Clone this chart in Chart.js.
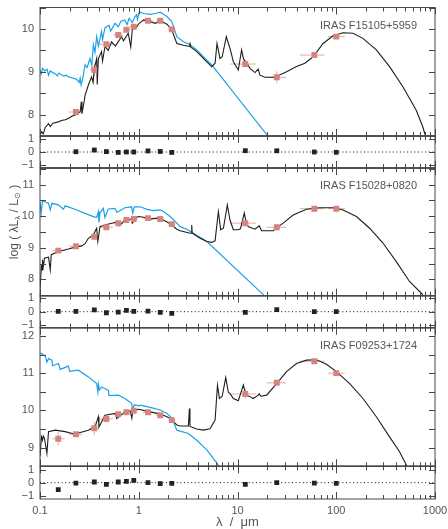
<!DOCTYPE html>
<html><head><meta charset="utf-8">
<script src="https://cdn.jsdelivr.net/npm/chart.js@4/dist/chart.umd.min.js"></script>
<style>html,body{margin:0;padding:0;background:#fff;}canvas{display:block;}</style>
</head><body>
<canvas id="c" width="448" height="529"></canvas>
<script>
// ---------- tick labels / categories ----------
const xTickVals = [0.1, 1, 10, 100, 1000];
const panelNames = ['IRAS F15105+5959', 'IRAS F15028+0820', 'IRAS F09253+1724'];
const panelRanges = [[7.5, 10.5], [7.48, 11.53], [8.5, 12.22]];
const panelLabelTicks = [[8, 9, 10], [8, 9, 10, 11], [9, 10, 11, 12]];
const resRanges = [[-1.2, 1.2], [-1.2, 1.2], [-1.25, 1.25]];
const resLabelTicks = [-1, 0, 1];

// ---------- photometry (filters) ----------
const filtLam = [0.153, 0.231, 0.355, 0.47, 0.62, 0.75, 0.89, 1.24, 1.65, 2.16, 12, 25, 60, 100];
const filtLo  = [0.134, 0.195, 0.32, 0.40, 0.55, 0.69, 0.82, 1.10, 1.50, 2.00, 8.4, 19.7, 42.5, 82.6];
const filtHi  = [0.178, 0.267, 0.39, 0.55, 0.69, 0.82, 0.97, 1.40, 1.80, 2.35, 15.4, 31.0, 76.0, 122.0];

const p1Obs = [null, 8.06, 9.04, 9.64, 9.86, 9.98, 10.05, 10.19, 10.19, 9.99, 9.18, 8.87, 9.39, 9.82];
const p1Err = [null, 0.05, 0.15, 0.05, 0.04, 0.04, 0.05, 0.04, 0.04, 0.05, 0.08, 0.14, 0.05, 0.04];
const p1Res = [null, 0.02, 0.15, 0.03, -0.03, 0.0, 0.0, 0.08, 0.04, -0.03, 0.10, 0.09, 0.0, -0.02];

const p2Obs = [8.91, 9.05, 9.35, 9.65, 9.78, 9.88, 9.91, 9.94, 9.91, 9.75, 9.78, 9.65, 10.24, 10.24];
const p2Err = [0.05, 0.04, 0.12, 0.05, 0.04, 0.04, 0.04, 0.04, 0.04, 0.05, 0.08, 0.10, 0.05, 0.04];
const p2Res = [0.03, 0.03, 0.13, -0.08, -0.03, 0.10, 0.03, 0.05, -0.05, -0.13, -0.05, 0.16, 0.0, 0.0];

const p3Obs = [9.24, 9.36, 9.52, 9.77, 9.90, 9.95, 9.99, 9.95, 9.87, 9.74, 10.44, 10.74, 11.32, 11.00];
const p3Err = [0.18, 0.05, 0.18, 0.06, 0.04, 0.04, 0.04, 0.04, 0.05, 0.06, 0.12, 0.05, 0.04, 0.05];
const p3Res = [-0.54, -0.03, 0.05, -0.13, 0.05, 0.10, 0.18, 0.0, -0.08, -0.05, -0.13, 0.0, -0.03, -0.05];

// ---------- panel 1 : stellar (blue) & total model (black) ----------
const p1StarLam = [0.100,0.103,0.106,0.112,0.118,0.122,0.127,0.135,0.143,0.150,0.155,0.165,0.175,0.185,0.195,0.210,0.225,0.240,0.250,0.255,0.261,0.270,0.286,0.300,0.321,0.335,0.347,0.360,0.375,0.390,0.420,0.430,0.455,0.500,0.520,0.575,0.620,0.660,0.725,0.760,0.800,0.860,0.916,0.950,0.970,1.000,1.035,1.120,1.306,1.470,1.650,1.780,1.930,2.160,2.430,2.840,3.310,3.870,4.700,5.490,20.3];
const p1StarVal = [9.04,8.95,9.08,9.02,9.06,8.92,9.02,8.98,8.95,8.90,8.97,8.93,8.90,8.92,8.88,8.86,8.84,8.80,8.75,8.85,8.69,8.82,9.16,9.10,9.31,9.15,9.63,9.45,9.82,9.60,9.94,9.75,10.03,10.08,9.95,10.13,10.05,10.18,10.21,10.10,10.25,10.15,10.29,10.33,10.22,10.37,10.39,10.36,10.34,10.36,10.39,10.34,10.29,10.17,9.82,9.70,9.63,9.51,9.31,9.16,7.5];
const p1ModLam = [0.100,0.104,0.108,0.113,0.122,0.127,0.135,0.154,0.165,0.180,0.194,0.210,0.227,0.240,0.255,0.262,0.266,0.275,0.286,0.309,0.333,0.345,0.355,0.375,0.380,0.390,0.420,0.430,0.455,0.490,0.531,0.580,0.670,0.700,0.783,0.830,0.860,0.950,1.000,1.120,1.306,1.470,1.650,1.930,2.160,2.430,2.840,3.260,3.300,3.350,3.870,4.700,5.490,5.930,6.200,6.650,7.000,7.700,8.090,8.390,9.080,10.19,11.00,11.50,12.40,13.37,15.03,16.20,16.87,18.97,23.90,31.40,39.60,48.10,58.30,73.60,92.90,117.2,147.9,186.2,254.7,346.7,473.0,645.7,753.4,801.7];
const p1ModVal = [7.52,7.60,7.55,7.70,7.79,7.72,7.80,7.83,7.86,7.88,7.91,7.96,7.99,8.03,8.06,8.30,8.02,8.20,8.45,8.69,8.88,8.75,9.08,9.31,8.70,9.30,9.47,9.25,9.59,9.50,9.70,9.60,9.82,9.72,9.90,9.58,9.98,10.05,10.12,10.21,10.17,10.13,10.19,10.11,9.98,9.66,9.62,9.59,9.68,9.58,9.47,9.27,9.12,9.20,9.66,9.31,9.35,9.82,9.66,9.55,9.23,9.04,9.51,9.30,9.20,9.08,8.98,9.06,8.92,8.87,8.87,9.00,9.12,9.20,9.35,9.66,9.84,9.91,9.90,9.78,9.51,9.12,8.65,8.10,7.71,7.50];

// ---------- panel 2 ----------
const p2StarLam = [0.100,0.1028,0.106,0.113,0.122,0.127,0.132,0.154,0.1726,0.1795,0.2265,0.286,0.347,0.375,0.390,0.395,0.405,0.4375,0.455,0.492,0.575,0.600,0.724,0.845,0.870,0.900,1.035,1.210,1.410,1.650,1.780,2.080,2.430,2.620,3.070,3.570,4.350,4.890,18.45];
const p2StarVal = [10.46,10.09,10.49,10.45,10.41,10.20,10.41,10.36,10.22,10.33,10.22,10.09,9.99,9.96,10.15,9.80,10.10,10.25,9.96,10.23,10.25,10.12,10.27,10.30,10.10,10.30,10.30,10.22,10.18,10.20,10.15,9.99,9.78,9.67,9.59,9.46,9.30,9.20,7.50];
const p2ModLam = [0.100,0.1035,0.105,0.106,0.108,0.111,0.122,0.127,0.130,0.154,0.194,0.2265,0.264,0.286,0.309,0.347,0.375,0.385,0.405,0.455,0.531,0.621,0.640,0.724,0.845,0.860,0.950,1.000,1.120,1.306,1.530,1.780,2.080,2.430,2.620,2.950,3.310,3.400,3.440,3.480,4.180,4.890,5.490,5.930,6.400,6.760,7.200,7.890,8.390,9.080,10.19,10.70,11.72,12.39,13.00,15.03,16.60,17.50,23.00,29.00,36.60,50.00,68.10,92.90,117.2,160.0,217.8,297.2,405.5,552.0,753.4];
const p2ModVal = [7.67,8.46,8.30,8.62,8.40,8.67,8.70,8.30,8.78,8.88,8.96,9.02,9.06,9.13,9.30,9.41,9.62,9.20,9.67,9.72,9.78,9.83,9.70,9.88,9.91,9.78,9.97,9.99,9.97,9.91,9.94,9.88,9.76,9.59,9.54,9.50,9.46,9.46,9.72,9.46,9.30,9.20,9.17,9.22,10.15,9.57,9.62,10.36,9.88,9.57,9.57,9.60,10.10,9.72,9.67,9.59,9.70,9.54,9.54,9.78,10.04,10.22,10.27,10.27,10.20,9.99,9.62,9.15,8.56,7.93,7.51];

// ---------- panel 3 ----------
const p3StarLam = [0.100,0.104,0.113,0.1175,0.122,0.132,0.134,0.154,0.160,0.194,0.200,0.245,0.309,0.375,0.385,0.390,0.400,0.420,0.492,0.500,0.621,0.724,0.845,0.870,0.900,1.000,1.035,1.306,1.650,1.930,2.160,2.430,3.180,3.870,4.890,6.500];
const p3StarVal = [11.51,11.53,11.46,11.30,11.39,11.35,11.20,11.26,11.10,11.19,11.05,11.08,10.90,10.72,10.50,10.70,10.55,10.63,10.54,10.40,10.41,10.32,10.19,10.00,10.15,10.12,10.14,10.08,10.01,9.92,9.80,9.47,9.38,9.20,8.94,8.51];
const p3ModLam = [0.100,0.1035,0.106,0.108,0.111,0.1175,0.122,0.1426,0.1795,0.2265,0.250,0.309,0.361,0.390,0.395,0.455,0.575,0.600,0.724,0.820,0.851,0.870,0.916,1.000,1.210,1.530,1.780,2.080,2.430,2.620,3.180,3.220,3.260,3.300,3.870,4.520,5.270,5.930,6.270,6.560,7.000,7.600,8.090,8.400,9.080,10.19,11.46,12.00,12.39,13.37,14.45,16.20,16.60,17.20,19.72,24.90,31.40,39.60,50.00,63.10,79.60,100.5,136.8,186.6,254.7,346.7,437.5,518.8];
const p3ModVal = [8.76,9.29,9.20,9.31,9.25,8.85,9.43,9.47,9.43,9.36,9.40,9.47,9.56,9.83,9.55,9.87,9.92,9.78,9.96,9.99,9.79,10.00,10.01,10.03,9.98,9.92,9.87,9.79,9.61,9.58,9.58,9.58,10.05,9.57,9.50,9.47,9.51,9.74,10.68,10.32,10.38,10.88,10.48,10.45,10.32,10.26,10.68,10.48,10.41,10.37,10.32,10.41,10.45,10.38,10.41,10.72,11.04,11.26,11.35,11.36,11.24,11.04,10.72,10.32,9.83,9.29,8.89,8.51];

// ---------- styling ----------
const BLUE = '#1ba2e6', BLACK = '#1e1e1e', RED = '#d5857e', REDBAR = '#eaa8a2', AXIS = '#474747', TXT = '#555';
const FONT = "'Liberation Sans', Arial, Helvetica, sans-serif";
Chart.defaults.font.family = FONT;
Chart.defaults.font.size = 11;
Chart.defaults.color = TXT;

function line(xs, ys) { const n = Math.min(xs.length, ys.length); const o = []; for (let i = 0; i < n; i++) o.push({x: xs[i], y: ys[i]}); return o; }
function obs(vals, errs) { const o = []; filtLam.forEach((l, i) => { if (vals[i] != null) o.push({x: l, y: vals[i], lo: filtLo[i], hi: filtHi[i], e: errs[i]}); }); return o; }
function res(vals) { const o = []; filtLam.forEach((l, i) => { if (vals[i] != null) o.push({x: l, y: vals[i]}); }); return o; }
function noPad(s) { s.paddingTop = 0; s.paddingBottom = 0; s.paddingLeft = 0; s.paddingRight = 0; }

const panels = [
  {star: [p1StarLam, p1StarVal], mod: [p1ModLam, p1ModVal], obs: [p1Obs, p1Err], res: p1Res},
  {star: [p2StarLam, p2StarVal], mod: [p2ModLam, p2ModVal], obs: [p2Obs, p2Err], res: p2Res},
  {star: [p3StarLam, p3StarVal], mod: [p3ModLam, p3ModVal], obs: [p3Obs, p3Err], res: p3Res}
];
const weights = [128.5, 32, 127.7, 32, 138.6, 32.7];

const datasets = [];
const yScales = {};
panels.forEach((p, k) => {
  const yId = 'y' + (k + 1), rId = 'r' + (k + 1);
  yScales[yId] = {
    type: 'linear', position: 'left', stack: 'sed', stackWeight: weights[2 * k],
    min: panelRanges[k][0], max: panelRanges[k][1],
    grid: {display: false, drawTicks: false}, border: {display: false},
    ticks: {padding: 6, autoSkip: false, color: TXT, font: {size: 11}, callback: (v) => String(v)},
    afterBuildTicks: (s) => { s.ticks = panelLabelTicks[k].map(v => ({value: v})); },
    afterFit: (s) => { s.width = 40; noPad(s); }
  };
  yScales[rId] = {
    type: 'linear', position: 'left', stack: 'sed', stackWeight: weights[2 * k + 1],
    min: resRanges[k][0], max: resRanges[k][1],
    grid: {display: false, drawTicks: false}, border: {display: false},
    ticks: {padding: 6, autoSkip: false, color: TXT, font: {size: 11}, callback: (v) => v < 0 ? '\u2212' + Math.abs(v) : String(v)},
    afterBuildTicks: (s) => { s.ticks = resLabelTicks.map(v => ({value: v})); },
    afterFit: (s) => { s.width = 40; noPad(s); }
  };
  datasets.push({data: obs(p.obs[0], p.obs[1]), yAxisID: yId, isObs: true, pointStyle: 'rect', pointRadius: 4.2, pointHoverRadius: 4.2, backgroundColor: RED, borderWidth: 0, order: 0});
  datasets.push({data: line(p.mod[0], p.mod[1]), yAxisID: yId, showLine: true, pointRadius: 0, borderColor: BLACK, borderWidth: 1.1, order: 1});
  datasets.push({data: line(p.star[0], p.star[1]), yAxisID: yId, showLine: true, pointRadius: 0, borderColor: BLUE, borderWidth: 1.2, order: 2});
  datasets.push({data: res(p.res), yAxisID: rId, pointStyle: 'rect', pointRadius: 3.4, pointHoverRadius: 3.4, backgroundColor: '#222', borderWidth: 0, order: 0});
  datasets.push({data: [{x: xTickVals[0], y: 0}, {x: xTickVals[xTickVals.length - 1], y: 0}], yAxisID: rId, showLine: true, pointRadius: 0, borderColor: '#111', borderWidth: 1, borderDash: [1, 2.6], order: 3});
});

// stacked axes are laid out bottom-up in definition order, so add them reversed
const scales = {
  x: {
    type: 'logarithmic', position: 'bottom', min: 0.1, max: 1000,
    grid: {display: false, drawTicks: false}, border: {display: false},
    ticks: {padding: 5, autoSkip: false, maxRotation: 0, color: TXT, font: {size: 11},
      callback: (v) => xTickVals.includes(v) ? String(v) : ''},
    afterBuildTicks: (s) => { s.ticks = xTickVals.map(v => ({value: v})); },
    afterFit: (s) => { s.height = 30; noPad(s); }
  }
};
['r3', 'y3', 'r2', 'y2', 'r1', 'y1'].forEach(id => { scales[id] = yScales[id]; });

const errorBars = {
  id: 'errorBars',
  beforeDatasetsDraw(chart) {
    const ctx = chart.ctx, xs = chart.scales.x;
    ctx.save(); ctx.strokeStyle = REDBAR; ctx.lineWidth = 1;
    chart.data.datasets.forEach(ds => {
      if (!ds.isObs) return;
      const ys = chart.scales[ds.yAxisID];
      ds.data.forEach(p => {
        const cx = xs.getPixelForValue(p.x), cy = ys.getPixelForValue(p.y);
        ctx.beginPath();
        ctx.moveTo(xs.getPixelForValue(p.lo), cy); ctx.lineTo(xs.getPixelForValue(p.hi), cy);
        ctx.moveTo(cx, ys.getPixelForValue(p.y - p.e)); ctx.lineTo(cx, ys.getPixelForValue(p.y + p.e));
        ctx.stroke();
      });
    });
    ctx.restore();
  }
};

const frames = {
  id: 'frames',
  afterDraw(chart) {
    const ctx = chart.ctx, xs = chart.scales.x, ca = chart.chartArea;
    const L = ca.left, R = ca.right;
    const ids = ['y1', 'r1', 'y2', 'r2', 'y3', 'r3'];
    const minor = [];
    for (let d = 0.1; d < 1000; d *= 10) for (let m = 2; m <= 9; m++) minor.push(d * m);
    ctx.save();
    ctx.strokeStyle = AXIS; ctx.lineWidth = 1;
    ids.forEach((id, j) => {
      const s = chart.scales[id];
      const T = s.top, B = s.bottom;
      ctx.beginPath();
      xTickVals.forEach(v => { const px = Math.round(xs.getPixelForValue(v)) + 0.5; ctx.moveTo(px, T); ctx.lineTo(px, T + 7); ctx.moveTo(px, B); ctx.lineTo(px, B - 7); });
      minor.forEach(v => { const px = Math.round(xs.getPixelForValue(v)) + 0.5; ctx.moveTo(px, T); ctx.lineTo(px, T + 4); ctx.moveTo(px, B); ctx.lineTo(px, B - 4); });
      let yt = [];
      if (id[0] === 'y') { for (let v = Math.ceil(s.min * 2) / 2; v <= s.max; v += 0.5) yt.push(v); }
      else yt = resLabelTicks;
      yt.forEach(v => { const py = Math.round(s.getPixelForValue(v)) + 0.5; ctx.moveTo(L, py); ctx.lineTo(L + 6, py); ctx.moveTo(R, py); ctx.lineTo(R - 6, py); });
      ctx.stroke();
      ctx.strokeRect(L, T, R - L, B - T);
    });
    // thicker separators between panels
    ctx.lineWidth = 1.6;
    ctx.beginPath();
    ['y1', 'r1', 'y2', 'r2', 'y3'].forEach(id => { const b = chart.scales[id].bottom; ctx.moveTo(L, b); ctx.lineTo(R, b); });
    ctx.stroke();
    // panel names
    ctx.fillStyle = TXT; ctx.font = '11px ' + FONT; ctx.textAlign = 'right'; ctx.textBaseline = 'middle';
    panelNames.forEach((n, k) => { const s = chart.scales['y' + (k + 1)]; ctx.fillText(n, 417, s.top + 18); });
    // x title
    ctx.textAlign = 'center'; ctx.font = '13px ' + FONT;
    ctx.fillText('\u03bb  /  \u03bcm', (L + R) / 2, 522);
    // y title with subscripts
    ctx.translate(15, 222); ctx.rotate(-Math.PI / 2);
    const parts = [['log ( \u03bbL', 12, 0], ['\u03bb', 8, 3], [' / L', 12, 0], ['\u2299', 8, 3], [' )', 12, 0]];
    let tot = 0;
    parts.forEach(p => { ctx.font = p[1] + 'px ' + FONT; tot += ctx.measureText(p[0]).width; });
    let x0 = -tot / 2;
    ctx.textAlign = 'left';
    parts.forEach(p => { ctx.font = p[1] + 'px ' + FONT; ctx.fillText(p[0], x0, p[2]); x0 += ctx.measureText(p[0]).width; });
    ctx.restore();
  }
};

new Chart(document.getElementById('c'), {
  type: 'scatter',
  data: {datasets},
  options: {
    responsive: false, animation: false, devicePixelRatio: 1,
    layout: {padding: {left: 0, right: 13, top: 7.5, bottom: 0}},
    plugins: {legend: {display: false}, tooltip: {enabled: false}},
    scales
  },
  plugins: [errorBars, frames]
});
</script>
</body></html>
